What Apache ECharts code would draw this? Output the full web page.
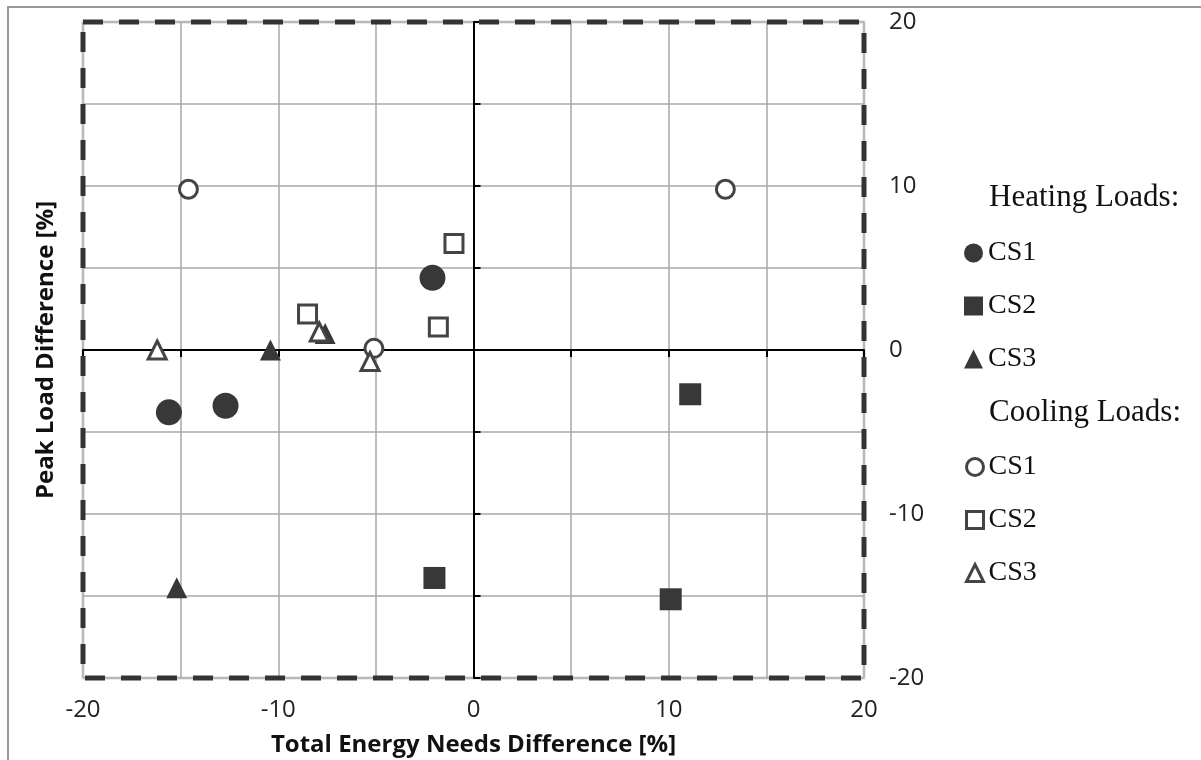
<!DOCTYPE html>
<html>
<head>
<meta charset="utf-8">
<script src="https://cdn.jsdelivr.net/npm/echarts@6/dist/echarts.min.js"></script>
<style>
body{margin:0;background:#fff;}
#frame{position:absolute;left:7px;top:6px;right:0;bottom:0;border-top:2px solid #999;border-left:2px solid #999;}
#main{position:absolute;left:0;top:0;width:1201px;height:760px;}
</style>
</head>
<body>
<div id="frame"></div>
<div id="main"></div>
<script>
// axis range
var xMin = -20, xMax = 20, yMin = -20, yMax = 20;
var step = 5, labelStep = 10;

// heating loads [total energy diff, peak load diff]
var heatCS1 = [[-2.1, 4.4], [-15.6, -3.8], [-12.7, -3.4]];
var heatCS2 = [[-2.0, -13.9], [11.1, -2.7], [10.1, -15.2]];
var heatCS3 = [[-10.4, 0.0], [-7.6, 1.0], [-15.2, -14.5]];
// cooling loads
var coolCS1 = [[-14.6, 9.8], [12.9, 9.8], [-5.1, 0.1]];
var coolCS2 = [[-1.0, 6.5], [-8.5, 2.2], [-1.8, 1.4]];
var coolCS3 = [[-16.2, 0.0], [-7.9, 1.1], [-5.3, -0.7]];

var dark = '#383838';
var openLine = '#444';
var tickFont = '"Open Sans", sans-serif';
var legendFont = '"Liberation Serif", serif';

function tenOnly(v){ return v % labelStep === 0 ? String(v) : ''; }

function filled(name, symbol, size, data){
	return {
		name: name, type: 'scatter', symbol: symbol, symbolSize: size,
		itemStyle: {color: dark, opacity: 1},
		data: data, z: 3
	};
}
function hollow(name, symbol, size, data){
	return {
		name: name, type: 'scatter', symbol: symbol, symbolSize: size,
		itemStyle: {color: '#fff', borderColor: openLine, borderWidth: 3, opacity: 1},
		data: data, z: 4
	};
}

var series = [
	filled('Heating CS1', 'circle', 26, heatCS1),
	filled('Heating CS2', 'rect', 22, heatCS2),
	filled('Heating CS3', 'triangle', 21, heatCS3),
	hollow('Cooling CS1', 'circle', 18, coolCS1),
	hollow('Cooling CS2', 'rect', 18, coolCS2),
	hollow('Cooling CS3', 'triangle', 18, coolCS3)
];
// dashed outer border of the plot area
series[0].markArea = {
	silent: true,
	itemStyle: {color: 'transparent', borderColor: '#333', borderWidth: 5, borderType: [20, 16]},
	data: [[{coord: [xMin, yMax]}, {coord: [xMax, yMin]}]]
};

var legendText = {fontFamily: legendFont, fontSize: 28, color: '#111', lineHeight: 30};
var headText = {fontFamily: legendFont, fontSize: 31, fontWeight: 'normal', color: '#111'};
function shortName(n){ return n.split(' ')[1]; }

var chart = echarts.init(document.getElementById('main'));
chart.setOption({
	animation: false,
	title: [
		{text: 'Heating Loads:', left: 989, top: 182, padding: 0, textStyle: headText},
		{text: 'Cooling Loads:', left: 989, top: 397, padding: 0, textStyle: headText}
	],
	legend: [
		{
			orient: 'vertical', left: 964, top: 238, padding: 0,
			itemWidth: 19, itemHeight: 19, itemGap: 23,
			data: ['Heating CS1', 'Heating CS2', 'Heating CS3'],
			formatter: shortName, textStyle: legendText, selectedMode: false
		},
		{
			orient: 'vertical', left: 965, top: 452, padding: 0,
			itemWidth: 17, itemHeight: 17, itemGap: 23,
			data: ['Cooling CS1', 'Cooling CS2', 'Cooling CS3'],
			itemStyle: {borderWidth: 3},
			formatter: shortName, textStyle: legendText, selectedMode: false
		}
	],
	grid: {
		left: 83, top: 22, width: 781, height: 656, outerBoundsMode: 'none', containLabel: false,
		show: true, borderColor: '#ebebeb', borderWidth: 4
	},
	xAxis: [
		{
			type: 'value', min: xMin, max: xMax, interval: step, position: 'bottom',
			axisLine: {show: false, onZero: false}, axisTick: {show: false},
			axisLabel: {formatter: tenOnly, margin: 20, fontFamily: tickFont, fontSize: 24, color: '#222'},
			splitLine: {show: true, lineStyle: {color: '#a8a8a8', width: 1.5}},
			name: 'Total Energy Needs Difference [%]', nameLocation: 'middle', nameGap: 55,
			nameTextStyle: {fontFamily: tickFont, fontSize: 24, fontWeight: 'bold', color: '#111'}
		},
		{
			type: 'value', min: xMin, max: xMax, interval: step, position: 'top',
			axisLine: {show: true, onZero: true, lineStyle: {color: '#000', width: 2}},
			axisTick: {show: true, inside: true, length: 7, lineStyle: {color: '#000', width: 2}},
			axisLabel: {show: false}, splitLine: {show: false}
		}
	],
	yAxis: [
		{
			type: 'value', min: yMin, max: yMax, interval: step, position: 'right',
			axisLine: {show: false, onZero: false}, axisTick: {show: false},
			axisLabel: {formatter: tenOnly, margin: 25, fontFamily: tickFont, fontSize: 24, color: '#222'},
			splitLine: {show: true, lineStyle: {color: '#a8a8a8', width: 1.5}}
		},
		{
			type: 'value', min: yMin, max: yMax, interval: step, position: 'left',
			axisLine: {show: true, onZero: true, lineStyle: {color: '#000', width: 2}},
			axisTick: {show: true, inside: true, length: 7, lineStyle: {color: '#000', width: 2}},
			axisLabel: {show: false}, splitLine: {show: false}
		},
		{
			type: 'value', min: yMin, max: yMax, interval: step, position: 'left',
			axisLine: {show: false, onZero: false}, axisTick: {show: false},
			axisLabel: {show: false}, splitLine: {show: false},
			name: 'Peak Load Difference [%]', nameLocation: 'middle', nameGap: 25,
			nameTextStyle: {fontFamily: tickFont, fontSize: 24, fontWeight: 'bold', color: '#111'}
		}
	],
	series: series
});
</script>
</body>
</html>
